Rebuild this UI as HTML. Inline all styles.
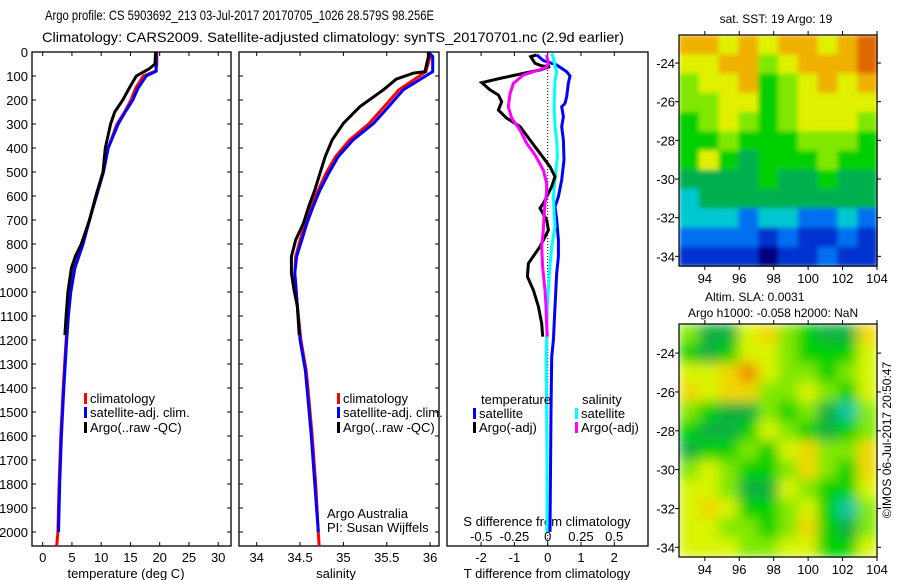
<!DOCTYPE html>
<html><head><meta charset="utf-8"><style>
html,body{margin:0;padding:0;background:#fff}
svg{display:block;font-family:"Liberation Sans",sans-serif}
</style></head><body>
<svg id="fig" width="900" height="580" viewBox="0 0 900 580" xmlns="http://www.w3.org/2000/svg">
<defs>
<filter id="blur" x="0" y="0" width="1" height="1"><feGaussianBlur stdDeviation="6" edgeMode="duplicate"/></filter>
<filter id="blur2" x="0" y="0" width="1" height="1"><feGaussianBlur stdDeviation="2.5" edgeMode="duplicate"/></filter>
</defs>
<text x="45" y="20" font-size="14" textLength="389" lengthAdjust="spacingAndGlyphs">Argo profile: CS 5903692_213 03-Jul-2017 20170705_1026 28.579S 98.256E</text>
<text x="42" y="42" font-size="14" textLength="582" lengthAdjust="spacingAndGlyphs">Climatology: CARS2009. Satellite-adjusted climatology: synTS_20170701.nc (2.9d earlier)</text>
<g id="g"></g>
</svg>
<script>
// ---------- data ----------
const depthTicks=[0,100,200,300,400,500,600,700,800,900,1000,1100,1200,1300,1400,1500,1600,1700,1800,1900,2000];
const tempTicks=[0,5,10,15,20,25,30];
const salTicks=[34,34.5,35,35.5,36];
const dTTicks=[-2,-1,0,1,2];
const dSTicks=[-0.5,-0.25,0,0.25,0.5];
const dSTickLabels=["-0.5","-0.25","0","0.25","0.5"];

const climTDepth=[0,50,80,100,150,200,250,300,400,500,600,700,800,900,1000,1100,1200,1400,1600,1800,2000,2058];
const climT=[19.5,19.5,19.3,17.2,15.9,15.1,14.0,12.7,11.2,10.3,9.1,8.0,6.8,5.3,4.7,4.3,4.0,3.5,3.1,2.8,2.6,2.4];
const satTDepth=[0,50,80,100,150,200,250,300,400,500,600,700,800,900,1000,1100,1200,1400,1600,1800,2000];
const satT=[19.4,19.4,19.4,17.7,16.3,15.4,14.1,12.9,11.2,10.4,9.2,8.0,6.9,5.5,4.8,4.4,4.1,3.6,3.2,2.9,2.7];
const argoTDepth=[0,50,70,100,150,200,250,300,400,500,600,700,800,850,900,1000,1100,1180];
const argoT=[19.3,19.2,18.2,16.0,14.8,13.7,12.3,11.6,10.7,10.3,9.1,8.0,6.6,5.6,4.9,4.3,4.0,3.8];

const satSDepth=[0,19,82,158,228,297,367,436,505,575,644,713,783,853,921,1061,1200,1325,1400,1600,1800,2000];
const satS=[35.98,36.03,36.03,35.69,35.52,35.35,35.11,34.94,34.83,34.73,34.65,34.58,34.52,34.46,34.44,34.47,34.50,34.56,34.58,34.63,34.67,34.71];
const climSDepth=[0,19,82,158,228,297,367,436,505,575,644,713,783,853,921,1061,1200,1325,1400,1600,1800,2000,2058];
const climS=[36.0,36.0,35.95,35.64,35.47,35.30,35.07,34.91,34.80,34.71,34.63,34.56,34.50,34.45,34.44,34.47,34.51,34.57,34.59,34.64,34.68,34.71,34.72];
const argoSDepth=[0,19,82,88,113,158,228,297,367,436,505,575,644,713,783,853,921,991,1061,1180];
const argoS=[35.98,35.98,35.94,35.81,35.61,35.46,35.19,35.0,34.87,34.79,34.73,34.67,34.60,34.54,34.45,34.40,34.40,34.43,34.47,34.49];

const dTArgoDepth=[12,19,47,58,61,75,89,110,128,158,179,207,242,276,311,367,422,478,519,561,631,651,700,742,811,881,936,992,1061,1131,1186];
const dTArgo=[-0.33,-0.51,-0.38,-0.18,0.07,-0.23,-0.73,-1.43,-1.98,-1.73,-1.48,-1.38,-1.48,-1.23,-0.83,-0.53,-0.23,0.07,0.22,0.12,-0.13,-0.23,-0.03,0.02,-0.23,-0.58,-0.61,-0.43,-0.28,-0.18,-0.15];
const dSArgoDepth=[12,47,64,78,96,131,172,228,276,325,381,429,492,547,589,631,686,742,811,895,992,1061,1131,1186];
const dSArgo=[-0.008,0.005,-0.008,-0.083,-0.183,-0.258,-0.283,-0.296,-0.271,-0.208,-0.158,-0.095,-0.033,-0.008,-0.008,-0.02,-0.028,-0.033,-0.045,-0.038,-0.02,-0.013,-0.008,-0.003];
const dTSatDepth=[12,36,54,82,100,131,186,214,228,269,311,367,450,533,603,644,700,783,853,922,1061,1200,1270,1500,1800,2000];
const dTSat=[-0.33,-0.13,0.27,0.57,0.67,0.62,0.57,0.52,0.42,0.47,0.42,0.47,0.49,0.42,0.32,0.22,0.27,0.32,0.32,0.27,0.22,0.17,0.12,0.1,0.08,0.07];
const dSSatDepth=[6,26,61,82,117,228,311,367,436,533,603,672,728,811,922,1061,1200,1270,1400,1700,2000];
const dSSat=[0.03,0.043,0.055,0.068,0.055,0.048,0.055,0.068,0.073,0.055,0.043,0.048,0.055,0.03,0.013,-0.003,-0.008,-0.013,-0.01,-0.005,-0.005];

const mapLonTicks=[94,96,98,100,102,104];
const mapLatTicks=[-24,-26,-28,-30,-32,-34];
const sstGrid=[
[8,8,7,8,7,8,8,7,8,9],
[7,7,8,8,6,7,8,8,8,9],
[6,7,7,8,5,6,7,8,7,8],
[6,6,7,7,5,6,7,7,7,7],
[5,6,7,6,5,6,7,7,7,6],
[5,5,6,5,5,5,6,6,6,5],
[5,7,5,4,5,5,5,6,5,5],
[4,4,4,4,5,4,4,5,4,4],
[3,4,4,4,4,4,4,4,4,4],
[3,3,3,2,3,3,2,2,3,2],
[2,2,2,2,1,2,1,1,2,1],
[1,1,1,1,0,1,1,2,1,1]];
const slaGrid=[
[6,4,4,7,8,6,5,4,4,8],
[5,4,5,7,7,6,5,5,5,7],
[7,7,8,9,7,6,6,5,6,7],
[8,7,8,8,6,6,7,6,5,7],
[6,5,4,4,6,5,6,4,3,6],
[5,4,4,5,7,6,5,4,5,6],
[4,5,5,6,5,7,8,6,6,8],
[6,7,6,5,5,6,8,6,5,8],
[7,7,6,4,4,7,6,5,5,7],
[7,8,7,5,5,6,7,5,3,6],
[7,7,6,6,5,6,8,5,4,6],
[7,7,7,6,6,7,7,5,5,7]];

// ---------- helpers ----------
const NS="http://www.w3.org/2000/svg";
const G=document.getElementById('g');
function mk(tag,attrs,parent){const e=document.createElementNS(NS,tag);for(const k in attrs)e.setAttribute(k,attrs[k]);(parent||G).appendChild(e);return e;}
function txt(x,y,s,size,anchor){const t=mk('text',{x:x,y:y,'font-size':size||13,'text-anchor':anchor||'start'});t.textContent=s;return t;}
const yD=d=>52+d*0.24;
const xT=v=>42.7+v*5.85;
const xS=v=>256.7+(v-34)*86.7;
const xDT=v=>547.7+v*33.3;
const xDS=v=>547.7+v*133;

function line(xs,ds,fx,color,w,name){
  const p=xs.map((v,i)=>fx(v).toFixed(1)+','+yD(ds[i]).toFixed(1)).join(' ');
  const e=mk('polyline',{points:p,fill:'none',stroke:color,'stroke-width':w});
  
  
}
function box(x0,x1,name){
  const r=mk('rect',{x:x0,y:52,width:x1-x0,height:494,fill:'none',stroke:'#000','stroke-width':1.3});
  
  
}
function yticks(x0,x1){
  depthTicks.forEach(d=>{const y=yD(d);mk('line',{x1:x0,y1:y,x2:x0+4,y2:y,stroke:'#000'});mk('line',{x1:x1,y1:y,x2:x1-4,y2:y,stroke:'#000'});});
}
function legendItem(x,y,color,label,name){
  mk('rect',{x:x,y:y-10,width:3,height:11,fill:color});
  const t=txt(x+6,y,label,13);
  
  
}

// ---------- panel 1: temperature ----------
box(32,231,'temperature-panel');
yticks(32,231);
depthTicks.forEach(d=>{const t=txt(28,yD(d)+5,String(d),13,'end');});
tempTicks.forEach(v=>{const x=xT(v);mk('line',{x1:x,y1:546,x2:x,y2:542,stroke:'#000'});mk('line',{x1:x,y1:52,x2:x,y2:56,stroke:'#000'});const t=txt(x,562,String(v),13,'middle');});
{const t=txt(126,578,'temperature (deg C)',13,'middle');}
line(climT,climTDepth,xT,'#f00',3,'temp-climatology-line');
line(satT,satTDepth,xT,'#00f',3,'temp-satellite-line');
line(argoT,argoTDepth,xT,'#000',3,'temp-argo-line');
legendItem(84,403,'#f00','climatology','legend-climatology');
legendItem(84,417,'#00f','satellite-adj. clim.','legend-satellite-adj');
legendItem(84,432,'#000','Argo(..raw -QC)','legend-argo');

// ---------- panel 2: salinity ----------
box(239,439,'salinity-panel');
yticks(239,439);
salTicks.forEach(v=>{const x=xS(v);mk('line',{x1:x,y1:546,x2:x,y2:542,stroke:'#000'});mk('line',{x1:x,y1:52,x2:x,y2:56,stroke:'#000'});const t=txt(x,562,String(v),13,'middle');});
{const t=txt(336,578,'salinity',13,'middle');}
line(climS,climSDepth,xS,'#f00',3,'sal-climatology-line');
line(satS,satSDepth,xS,'#00f',3,'sal-satellite-line');
line(argoS,argoSDepth,xS,'#000',3,'sal-argo-line');
legendItem(337,403,'#f00','climatology','legend-climatology-2');
legendItem(337,417,'#00f','satellite-adj. clim.','legend-satellite-adj-2');
legendItem(337,432,'#000','Argo(..raw -QC)','legend-argo-2');
{const t=txt(327,518,'Argo Australia',13);}
{const t=txt(327,532,'PI: Susan Wijffels',13);}

// ---------- panel 3: differences ----------
box(447,648,'difference-panel');
mk('line',{x1:547.7,y1:52,x2:547.7,y2:546,stroke:'#000','stroke-dasharray':'1,2'});
dTTicks.forEach(v=>{const x=xDT(v);mk('line',{x1:x,y1:546,x2:x,y2:542,stroke:'#000'});mk('line',{x1:x,y1:52,x2:x,y2:56,stroke:'#000'});const t=txt(x,562,String(v),13,'middle');});
dSTicks.forEach((v,i)=>{const t=txt(xDS(v),541,dSTickLabels[i],13,'middle');});
{const t=txt(547,578,'T difference from climatology',13,'middle');}
{const t=txt(547,526,'S difference from climatology',13,'middle');}
line(dTSat,dTSatDepth,xDT,'#00f',3,'dt-satellite-line');
line(dSSat,dSSatDepth,xDS,'#0ff',3,'ds-satellite-line');
line(dTArgo,dTArgoDepth,xDT,'#000',3,'dt-argo-line');
line(dSArgo,dSArgoDepth,xDS,'#f0f',3,'ds-argo-line');
{const t=txt(481,404,'temperature',13);}
{const t=txt(582,404,'salinity',13);}
legendItem(473,418,'#00f','satellite','legend-t-satellite');
legendItem(473,432,'#000','Argo(-adj)','legend-t-argo');
legendItem(575,418,'#0ff','satellite','legend-s-satellite');
legendItem(575,432,'#f0f','Argo(-adj)','legend-s-argo');

// ---------- maps ----------
const sstColors=['#000080','#0030d0','#0070f0','#00c8d0','#00b050','#00d000','#80e800','#e0f000','#f0b000','#e06800'];
const slaColors=['#000080','#0030d0','#0070f0','#10c8a0','#10b040','#00d000','#80e800','#d8f400','#f0d800','#f09000'];
function drawMap(top,bottom,latTop,grid,colors,name,filt){
  const x0=679,x1=877;
  const lonL=92.5,lonR=104;
  const xL=lon=>x0+(lon-lonL)*(x1-x0)/(lonR-lonL);
  const latBottom=-34.5;
  const yL=lat=>top+(latTop-lat)*(bottom-top)/(latTop-latBottom);
  const rows=grid.length,cols=grid[0].length;
  const cw=(x1-x0)/cols,ch=(bottom-top)/rows;
  const cg=mk('g',{filter:'url(#'+filt+')'});
  
  
  grid.forEach((row,r)=>row.forEach((v,c)=>{
    const e=mk('rect',{x:(x0+c*cw).toFixed(1),y:(top+r*ch).toFixed(1),width:(cw+0.6).toFixed(1),height:(ch+0.6).toFixed(1),fill:colors[v]},cg);
    
    
  }));
  const b=mk('rect',{x:x0,y:top,width:x1-x0,height:bottom-top,fill:'none',stroke:'#000','stroke-width':1.2});
  
  
  mapLonTicks.forEach(l=>{const x=xL(l);mk('line',{x1:x,y1:bottom,x2:x,y2:bottom+4,stroke:'#000'});mk('line',{x1:x,y1:top,x2:x,y2:top-4,stroke:'#000'});const t=txt(x,bottom+17,String(l),13,'middle');});
  mapLatTicks.forEach(l=>{const y=yL(l);mk('line',{x1:x0,y1:y,x2:x0-4,y2:y,stroke:'#000'});mk('line',{x1:x1,y1:y,x2:x1+4,y2:y,stroke:'#000'});const t=txt(x0-4,y+5,String(l),13,'end');});
}
drawMap(35,266,-22.55,sstGrid,sstColors,'sst-map','blur2');
drawMap(324,557,-22.5,slaGrid,slaColors,'sla-map','blur');
{const t=txt(776,23,'sat. SST: 19 Argo: 19',12,'middle');}
{const t=txt(705,301,'Altim. SLA: 0.0031',12);}
{const t=txt(688,317,'Argo h1000: -0.058 h2000: NaN',12);}
{const t=txt(0,0,'©IMOS 06-Jul-2017 20:50:47',12,'middle');t.setAttribute('transform','translate(891,440) rotate(-90)');}
</script>
</body></html>
